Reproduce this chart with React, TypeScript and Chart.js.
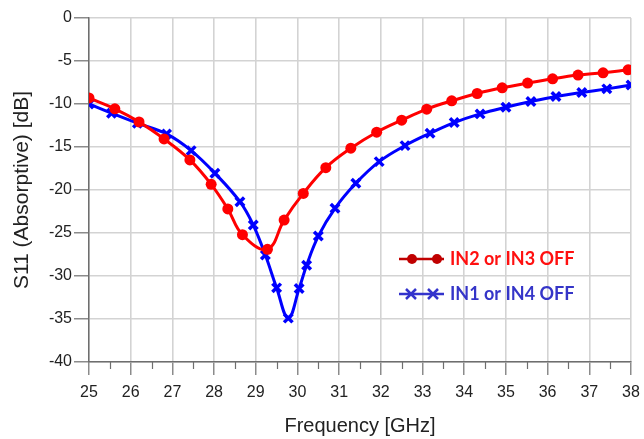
import React, { useEffect, useRef } from "react";
import { Chart, registerables } from "chart.js";

Chart.register(...registerables);

// Frequencies (GHz) and S11 (dB) at the marker positions
const redFreq = [25, 25.62, 26.2, 26.8, 27.42, 27.93, 28.33, 28.68, 29.28, 29.68, 30.14, 30.68, 31.28, 31.9, 32.5, 33.1, 33.7, 34.31, 34.91, 35.52, 36.12, 36.73, 37.33, 37.93];
const redS11 = [-9.3, -10.56, -12.08, -14.06, -16.5, -19.34, -22.2, -25.2, -26.9, -23.5, -20.4, -17.4, -15.14, -13.28, -11.88, -10.6, -9.63, -8.78, -8.12, -7.57, -7.07, -6.64, -6.37, -6.02];

const blueFreq = [25, 25.54, 26.16, 26.86, 27.45, 28.02, 28.62, 28.94, 29.23, 29.5, 29.78, 30.04, 30.22, 30.5, 30.9, 31.4, 31.96, 32.58, 33.18, 33.76, 34.38, 35.0, 35.6, 36.2, 36.82, 37.42, 38];
const blueS11 = [-10.0, -11.07, -12.23, -13.48, -15.42, -18.05, -21.36, -24.08, -27.57, -31.38, -34.9, -31.45, -28.74, -25.36, -22.13, -19.22, -16.7, -14.84, -13.4, -12.16, -11.15, -10.37, -9.71, -9.13, -8.67, -8.24, -7.8];

const seriesNames = ["IN2 or IN3 OFF", "IN1 or IN4 OFF"];
const xTitle = "Frequency [GHz]";
const yTitle = "S11 (Absorptive) [dB]";

const minorTicks = {
  id: "minorTicks",
  afterDraw(chart: any) {
    const x = chart.scales.x;
    const ctx = chart.ctx;
    const bottom = chart.chartArea.bottom;
    ctx.save();
    ctx.strokeStyle = "#6e6e6e";
    ctx.lineWidth = 1.2;
    for (let v = 25.5; v < 38; v += 1) {
      const px = Math.round(x.getPixelForValue(v)) + 0.5;
      ctx.beginPath();
      ctx.moveTo(px, bottom);
      ctx.lineTo(px, bottom + 7);
      ctx.stroke();
    }
    ctx.restore();
  },
};

const customLegend = {
  id: "customLegend",
  afterDraw(chart: any) {
    const ctx = chart.ctx;
    const items = [
      { text: seriesNames[0], line: "#c00000", textColor: "#ff1010", style: "circle", y: 259, marks: [412, 437] },
      { text: seriesNames[1], line: "#3333cc", textColor: "#3535c8", style: "cross", y: 294, marks: [411, 433] },
    ];
    ctx.save();
    for (const it of items) {
      ctx.strokeStyle = it.line;
      ctx.fillStyle = it.line;
      ctx.lineWidth = 2.5;
      ctx.beginPath();
      ctx.moveTo(399, it.y);
      ctx.lineTo(444, it.y);
      ctx.stroke();
      for (const mx of it.marks) {
        if (it.style === "circle") {
          ctx.beginPath();
          ctx.arc(mx, it.y, 5, 0, Math.PI * 2);
          ctx.fill();
        } else {
          ctx.lineWidth = 2.5;
          ctx.beginPath();
          ctx.moveTo(mx - 5, it.y - 5);
          ctx.lineTo(mx + 5, it.y + 5);
          ctx.moveTo(mx - 5, it.y + 5);
          ctx.lineTo(mx + 5, it.y - 5);
          ctx.stroke();
        }
      }
      ctx.fillStyle = it.textColor;
      ctx.font = "bold 18px Lato, 'Open Sans', sans-serif";
      ctx.textAlign = "left";
      ctx.textBaseline = "middle";
      ctx.fillText(it.text, 450, it.y);
    }
    ctx.restore();
  },
};

export default function App() {
  const ref = useRef<HTMLCanvasElement>(null);
  useEffect(() => {
    if (!ref.current) return;
    const fam = "'Liberation Sans', Arial, sans-serif";
    const tickFont = { family: fam, size: 16 };
    const chart = new Chart(ref.current, {
      type: "line",
      data: {
        datasets: [
          {
            label: seriesNames[0],
            data: redFreq.map((f, i) => ({ x: f, y: redS11[i] })),
            borderColor: "#ff0000",
            backgroundColor: "#ff0000",
            borderWidth: 3,
            pointStyle: "circle",
            pointRadius: 5.5,
            pointBorderWidth: 0,
            tension: 0.4,
          },
          {
            label: seriesNames[1],
            data: blueFreq.map((f, i) => ({ x: f, y: blueS11[i] })),
            borderColor: "#0000ff",
            backgroundColor: "#0000ff",
            borderWidth: 3,
            pointStyle: "crossRot",
            pointRadius: 6,
            pointBorderWidth: 3.5,
            tension: 0.4,
          },
        ],
      },
      options: {
        animation: false,
        responsive: true,
        maintainAspectRatio: false,
        layout: { padding: { top: 18, right: 13, left: 0, bottom: 0 } },
        plugins: { legend: { display: false }, tooltip: { enabled: false } },
        scales: {
          x: {
            type: "linear",
            min: 25,
            max: 38,
            ticks: { stepSize: 1, color: "#222", font: tickFont, padding: 8, maxRotation: 0 },
            grid: { color: "#d3d3d3", lineWidth: 1.6, tickColor: "#6e6e6e", tickLength: 13, tickWidth: 1.2 },
            border: { color: "#6e6e6e", width: 1.5 },
            title: { display: true, text: xTitle, color: "#222", font: { family: fam, size: 20 }, padding: { top: 0, bottom: 1 } },
            afterFit: (s: any) => { s.height = 77; s.paddingLeft = 0; s.paddingRight = 0; },
          },
          y: {
            min: -40,
            max: 0,
            ticks: { stepSize: 5, color: "#222", font: tickFont, padding: 2 },
            grid: { color: "#d3d3d3", lineWidth: 1.6, tickColor: "#6e6e6e", tickLength: 15, tickWidth: 1.2 },
            border: { color: "#6e6e6e", width: 1.5 },
            title: { display: true, text: yTitle, color: "#222", font: { family: fam, size: 21 }, padding: { top: 10, bottom: 0 } },
            afterFit: (s: any) => { s.width = 89; s.paddingTop = 0; s.paddingBottom = 0; },
          },
        },
      },
      plugins: [minorTicks, customLegend],
    });
    return () => chart.destroy();
  }, []);
  return (
    <div style={{ position: "absolute", left: 0, top: 0, width: 644, height: 439, background: "#fff" }}>
      <canvas ref={ref} />
    </div>
  );
}
